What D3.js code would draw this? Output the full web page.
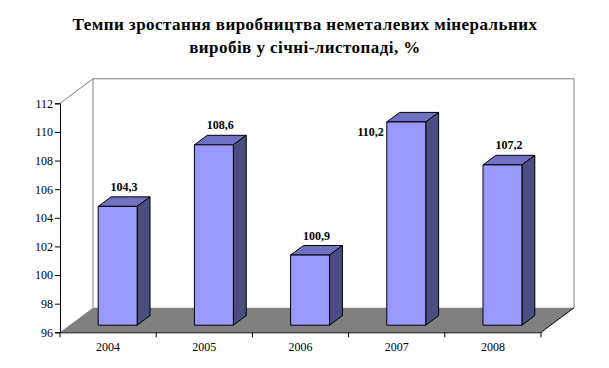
<!DOCTYPE html>
<html>
<head>
<meta charset="utf-8">
<script src="https://cdn.jsdelivr.net/npm/d3@7"></script>
<style>
  body { margin: 0; background: #fff; }
</style>
</head>
<body>
<div id="chart"></div>
<script>
// data
var years = ["2004", "2005", "2006", "2007", "2008"];
var values = [104.3, 108.6, 100.9, 110.2, 107.2];
var labels = ["104,3", "108,6", "100,9", "110,2", "107,2"];
var yTicks = [96, 98, 100, 102, 104, 106, 108, 110, 112];
var titleLines = ["Темпи зростання виробництва неметалевих мінеральних", "виробів у січні-листопаді, %"];

var width = 609, height = 368;
var serif = "'Liberation Serif', 'Times New Roman', Times, serif";

var svg = d3.select("#chart").append("svg")
  .attr("width", width)
  .attr("height", height);

// layout of the pseudo 3d plot
var plotLeft = 60, plotRight = 541, plotBottom = 332.3, plotTop = 103.3;
var depthX = 33, depthY = 24.5;
var zFront = 0.29, zBack = 0.68;

var x = d3.scaleBand().domain(years).range([plotLeft, plotRight]).padding(0);
var y = d3.scaleLinear().domain([96, 112]).range([plotBottom, plotTop]);
var barW = x.bandwidth() * 0.405;

function P(px, v, z) {
  return [px + z * depthX, y(v) - z * depthY];
}
function poly(pts) {
  return "M" + pts.map(function(p) { return p[0] + "," + p[1]; }).join("L") + "Z";
}

//title
svg.append("g").selectAll("text")
  .data(titleLines)
  .enter().append("text")
  .attr("x", 305)
  .attr("y", function(d, i) { return 30 + i * 23; })
  .attr("text-anchor", "middle")
  .style("font-family", serif)
  .style("font-size", "17px")
  .style("font-weight", "bold")
  .style("letter-spacing", "0.45px")
  .text(function(d) { return d; });

var walls = svg.append("g");

// back wall
var bl = P(plotLeft, 96, 1), tl = P(plotLeft, 112, 1), tr = P(plotRight, 112, 1), br = P(plotRight, 96, 1);
walls.append("path")
  .attr("d", poly([bl, tl, tr, br]))
  .attr("fill", "#fff")
  .attr("stroke", "none");
walls.append("path")
  .attr("d", "M" + bl + "L" + tl + "L" + tr + "L" + br)
  .attr("fill", "none")
  .attr("stroke", "#808080");

// left wall top edge
walls.append("line")
  .attr("x1", plotLeft).attr("y1", y(112))
  .attr("x2", tl[0]).attr("y2", tl[1])
  .attr("stroke", "#808080");

// floor
walls.append("path")
  .attr("d", poly([P(plotLeft, 96, 0), P(plotLeft, 96, 1), P(plotRight, 96, 1), P(plotRight, 96, 0)]))
  .attr("fill", "#808080");
walls.append("line")
  .attr("x1", plotRight).attr("y1", y(96))
  .attr("x2", br[0]).attr("y2", br[1])
  .attr("stroke", "#000");

// bars
var bars = svg.append("g").selectAll("g")
  .data(values)
  .enter().append("g");

function x0(i) { return x(years[i]) + (x.bandwidth() - barW) / 2; }

bars.append("path") // top
  .attr("d", function(d, i) {
    var a = x0(i), b = a + barW;
    return poly([P(a, d, zFront), P(a, d, zBack), P(b, d, zBack), P(b, d, zFront)]);
  })
  .attr("fill", "#7171C4").attr("stroke", "#000").attr("stroke-linejoin", "round");

bars.append("path") // side
  .attr("d", function(d, i) {
    var b = x0(i) + barW;
    return poly([P(b, 96, zFront), P(b, d, zFront), P(b, d, zBack), P(b, 96, zBack)]);
  })
  .attr("fill", "#4C4C80").attr("stroke", "#000").attr("stroke-linejoin", "round");

bars.append("path") // front
  .attr("d", function(d, i) {
    var a = x0(i), b = a + barW;
    return poly([P(a, 96, zFront), P(a, d, zFront), P(b, d, zFront), P(b, 96, zFront)]);
  })
  .attr("fill", "#9999FF").attr("stroke", "#000");

// value labels, the tallest one sits left of its bar
bars.append("text")
  .attr("x", function(d, i) {
    if (d > 110) return P(x0(i), d, zFront)[0] - 3;
    return P(x0(i) + barW / 2, d, (zFront + zBack) / 2)[0];
  })
  .attr("y", function(d, i) {
    if (d > 110) return P(x0(i), d, zFront)[1] + 14;
    return P(x0(i), d, zBack)[1] - 6;
  })
  .attr("text-anchor", function(d) { return d > 110 ? "end" : "middle"; })
  .style("font-family", serif)
  .style("font-size", "12px")
  .style("font-weight", "bold")
  .text(function(d, i) { return labels[i]; });

// y axis
var yAxis = svg.append("g")
  .attr("transform", "translate(" + plotLeft + ",0)")
  .call(d3.axisLeft(y).tickValues(yTicks).tickSize(5).tickPadding(2).tickFormat(d3.format("d")));
yAxis.selectAll("text").style("font-family", serif).style("font-size", "12px").attr("fill", "#000");
yAxis.select(".domain").attr("stroke", "#000");

// x axis, ticks on category boundaries
var xAxis = svg.append("g")
  .attr("transform", "translate(0," + plotBottom + ")")
  .call(d3.axisBottom(x).tickSize(0).tickPadding(10));
xAxis.selectAll("text").style("font-family", serif).style("font-size", "12px").attr("fill", "#000");
xAxis.select(".domain").attr("stroke", "#000");
xAxis.selectAll(".bound")
  .data(d3.range(years.length + 1))
  .enter().append("line")
  .attr("x1", function(i) { return plotLeft + i * x.step(); })
  .attr("x2", function(i) { return plotLeft + i * x.step(); })
  .attr("y1", 0).attr("y2", 5)
  .attr("stroke", "#000");
</script>
</body>
</html>
